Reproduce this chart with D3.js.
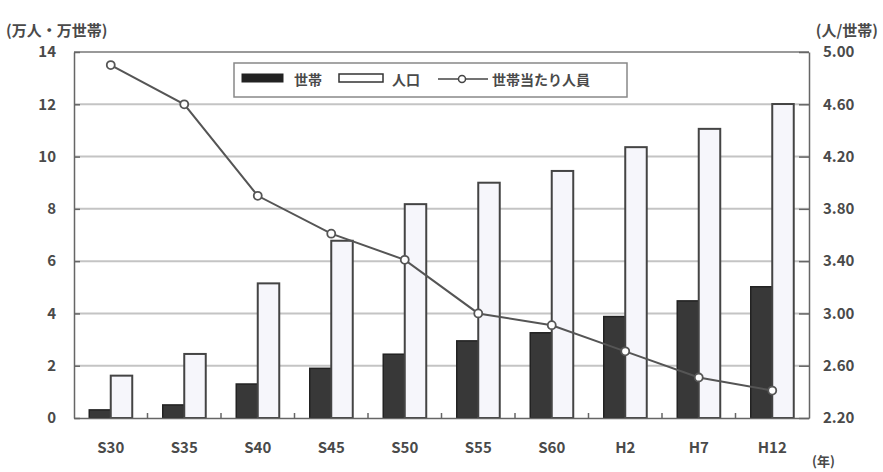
<!DOCTYPE html>
<html>
<head>
<meta charset="utf-8">
<script src="https://cdn.jsdelivr.net/npm/d3@7"></script>
<style>
  body { margin: 0; background: #fff; }
  text { font-family: "Noto Sans CJK JP", "Noto Sans", sans-serif; fill: #4a4a4a; font-weight: bold; }
</style>
</head>
<body>
<svg id="chart" width="883" height="472"></svg>
<script>
var years = ["S30", "S35", "S40", "S45", "S50", "S55", "S60", "H2", "H7", "H12"];
var households = [0.31, 0.5, 1.3, 1.9, 2.44, 2.95, 3.26, 3.88, 4.48, 5.02];      // 世帯 (万世帯)
var population = [1.62, 2.45, 5.15, 6.78, 8.18, 9.0, 9.45, 10.36, 11.06, 12.01];  // 人口 (万人)
var perHousehold = [4.90, 4.60, 3.90, 3.61, 3.41, 3.00, 2.91, 2.71, 2.51, 2.41]; // 世帯当たり人員
var leftTicks = [0, 2, 4, 6, 8, 10, 12, 14];
var rightTicks = [2.2, 2.6, 3.0, 3.4, 3.8, 4.2, 4.6, 5.0];

function drawChart() {
    var svg = d3.select("#chart"),
        margin = {top: 52, right: 74, bottom: 54, left: 74},
        width = 735,
        height = 366;

    var x0 = d3.scaleBand().domain(years).range([0, width])
                .paddingInner(0.415).paddingOuter(0.2075),
        x1 = d3.scaleBand().domain(["hh", "pop"]).range([0, x0.bandwidth()]),
        y = d3.scaleLinear().domain([0, 14]).range([height, 0]),
        y2 = d3.scaleLinear().domain([2.2, 5.0]).range([height, 0]);

    var g = svg.append("g")
            .attr("transform", "translate(" + margin.left + "," + margin.top + ")");

    // gridlines
    g.selectAll(".grid")
     .data(leftTicks.slice(1, -1))
     .enter().append("line")
     .attr("x1", 0).attr("x2", width)
     .attr("y1", function(d) { return y(d); })
     .attr("y2", function(d) { return y(d); })
     .attr("stroke", "#c4c4c4")
     .attr("stroke-width", 2);

    // top border
    g.append("line")
     .attr("x1", 0).attr("x2", width)
     .attr("y1", 0).attr("y2", 0)
     .attr("stroke", "#777").attr("stroke-width", 1.5);

    var rows = years.map(function(d, i) {
        return {year: d, hh: households[i], pop: population[i], per: perHousehold[i]};
    });

    // bars
    var grp = g.selectAll(".year")
               .data(rows)
               .enter().append("g")
               .attr("transform", function(d) { return "translate(" + x0(d.year) + ",0)"; });

    grp.append("rect")
       .attr("x", x1("hh"))
       .attr("y", function(d) { return y(d.hh); })
       .attr("width", x1.bandwidth())
       .attr("height", function(d) { return height - y(d.hh); })
       .attr("fill", "#383838")
       .attr("stroke", "#222")
       .attr("stroke-width", 1.5);

    grp.append("rect")
       .attr("x", x1("pop"))
       .attr("y", function(d) { return y(d.pop); })
       .attr("width", x1.bandwidth())
       .attr("height", function(d) { return height - y(d.pop); })
       .attr("fill", "#f6f6fb")
       .attr("stroke", "#444")
       .attr("stroke-width", 2);

    // axes
    var yAxis = g.append("g")
                 .call(d3.axisLeft(y).tickValues(leftTicks).tickSizeInner(-6).tickSizeOuter(0).tickPadding(18));
    var y2Axis = g.append("g")
                  .attr("transform", "translate(" + width + ",0)")
                  .call(d3.axisRight(y2).tickValues(rightTicks).tickFormat(d3.format(".2f"))
                        .tickSizeInner(-10).tickSizeOuter(0).tickPadding(14));
    var xAxis = g.append("g")
                 .attr("transform", "translate(0," + height + ")")
                 .call(d3.axisBottom(x0).tickSize(0).tickPadding(24));

    [yAxis, y2Axis, xAxis].forEach(function(a) {
        a.select(".domain").attr("stroke", "#666").attr("stroke-width", 1.5);
        a.selectAll(".tick line").attr("stroke", "#666").attr("stroke-width", 1.5);
        a.selectAll("text").attr("font-size", "15px").attr("fill", "#4a4a4a")
         .attr("font-weight", "bold")
         .attr("font-family", "\"Noto Sans CJK JP\", sans-serif");
    });

    // small ticks between categories
    g.selectAll(".xtick")
     .data(years.slice(1))
     .enter().append("line")
     .attr("x1", function(d) { return x0(d) - (x0.step() - x0.bandwidth()) / 2; })
     .attr("x2", function(d) { return x0(d) - (x0.step() - x0.bandwidth()) / 2; })
     .attr("y1", height).attr("y2", height - 5)
     .attr("stroke", "#666").attr("stroke-width", 1.5);

    // line
    var line = d3.line()
                 .x(function(d) { return x0(d.year) + x0.bandwidth() / 2; })
                 .y(function(d) { return y2(d.per); });

    g.append("path")
     .datum(rows)
     .attr("d", line)
     .attr("fill", "none")
     .attr("stroke", "#555")
     .attr("stroke-width", 2);

    g.selectAll(".pt")
     .data(rows)
     .enter().append("circle")
     .attr("cx", function(d) { return x0(d.year) + x0.bandwidth() / 2; })
     .attr("cy", function(d) { return y2(d.per); })
     .attr("r", 4)
     .attr("fill", "#fff")
     .attr("stroke", "#555")
     .attr("stroke-width", 1.8);

    // legend
    var lg = svg.append("g").attr("transform", "translate(234,63)");
    lg.append("rect")
      .attr("width", 393).attr("height", 34)
      .attr("fill", "#fff").attr("stroke", "#888").attr("stroke-width", 1.5);
    lg.append("rect")
      .attr("x", 8).attr("y", 11).attr("width", 41).attr("height", 8)
      .attr("fill", "#222").attr("stroke", "#222");
    lg.append("text").attr("x", 60).attr("y", 22).attr("font-size", "14px").text("世帯");
    lg.append("rect")
      .attr("x", 105).attr("y", 11).attr("width", 44).attr("height", 8)
      .attr("fill", "#fff").attr("stroke", "#333").attr("stroke-width", 1.5);
    lg.append("text").attr("x", 158).attr("y", 22).attr("font-size", "14px").text("人口");
    lg.append("line")
      .attr("x1", 204).attr("x2", 254).attr("y1", 16).attr("y2", 16)
      .attr("stroke", "#444").attr("stroke-width", 1.5);
    lg.append("circle")
      .attr("cx", 228).attr("cy", 16).attr("r", 3.5)
      .attr("fill", "#fff").attr("stroke", "#444").attr("stroke-width", 1.5);
    lg.append("text").attr("x", 258).attr("y", 22).attr("font-size", "14px").text("世帯当たり人員");

    // axis titles
    svg.append("text").attr("x", 6).attr("y", 36).attr("font-size", "15px").text("(万人・万世帯)");
    svg.append("text").attr("x", 878).attr("y", 36).attr("text-anchor", "end")
       .attr("font-size", "15px").text("(人/世帯)");
    svg.append("text").attr("x", 812).attr("y", 466).attr("font-size", "13px").text("(年)");
}

drawChart();
</script>
</body>
</html>
